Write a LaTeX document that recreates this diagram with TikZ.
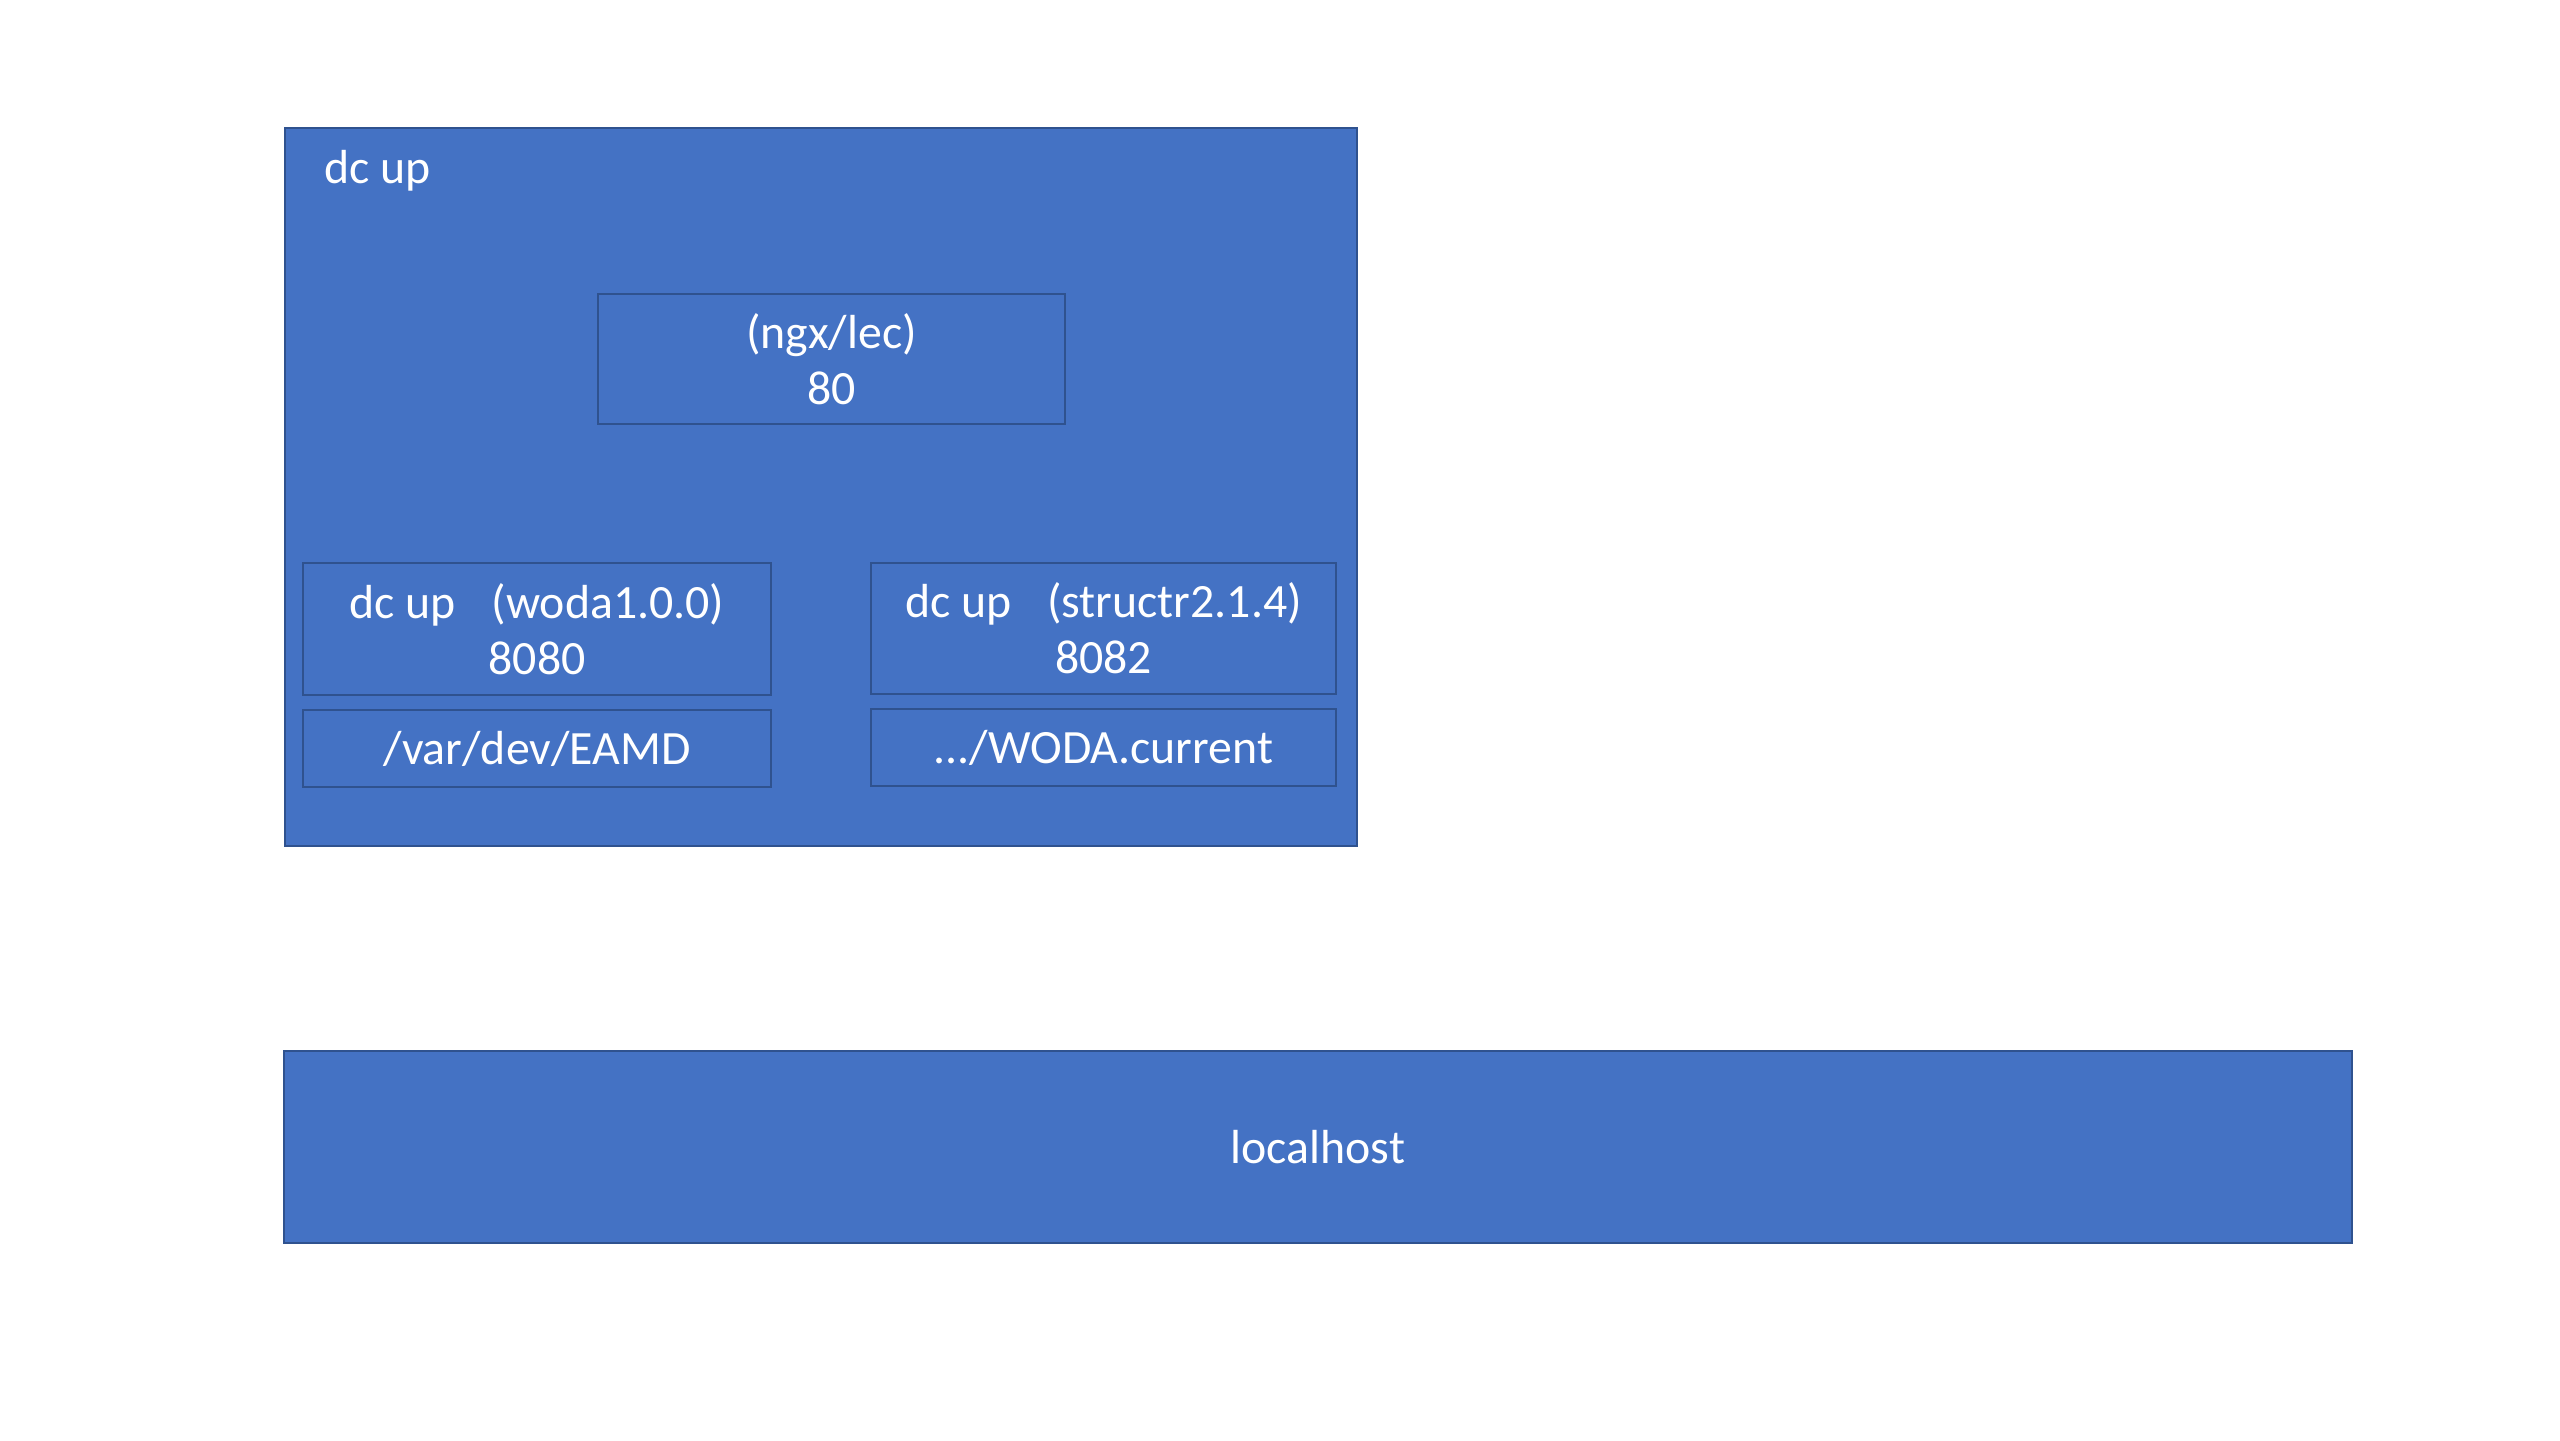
\documentclass[tikz,border=0pt]{standalone}
\usepackage{fontspec}
\setmainfont{Carlito}
\definecolor{officeBlue}{RGB}{68,114,196}
\definecolor{officeEdge}{RGB}{47,82,143}
\usepackage{tikz}
\usetikzlibrary{positioning}

\begin{document}
\begin{tikzpicture}[
    x=1cm,y=1cm,
    panel/.style={draw=officeEdge,line width=0.7pt,fill=officeBlue,inner sep=0pt},
    service/.style={draw=officeEdge,line width=0.6pt,fill=officeBlue,inner sep=0pt,
      text=white,align=center,font=\fontsize{13.6}{16}\selectfont},
    label/.style={text=white,inner sep=0pt,font=\fontsize{13.6}{16}\selectfont}
  ]
  \useasboundingbox[fill=white] (0,0) rectangle (25.6,-14.4);
  % Compose stack (top)
  \node[panel,minimum width=10.72cm,minimum height=7.18cm] (stack) at (8.21,-4.87) {};
  \node[label,anchor=base west] (stacktitle) at (3.24,-1.83) {dc up};
  % Reverse proxy
  \node[service,minimum width=4.67cm,minimum height=1.30cm] (proxy) at (8.315,-3.59)
    {(ngx/lec)\\80};
  % Applications with their mounted folders
  \node[service,minimum width=4.68cm,minimum height=1.32cm] (woda) at (5.37,-6.29)
    {dc up\hspace{0.75em}(woda1.0.0)\\8080};
  \node[service,minimum width=4.68cm,minimum height=0.77cm,below=0.13 of woda] (eamd)
    {/var/dev/EAMD};
  \node[service,minimum width=4.65cm,minimum height=1.31cm] (structr) at (11.035,-6.285)
    {dc up\hspace{0.75em}(structr2.1.4)\\8082};
  \node[service,minimum width=4.65cm,minimum height=0.77cm,below=0.13 of structr] (current)
    {.../WODA.current};
  % Host (bottom)
  \node[panel,minimum width=20.68cm,minimum height=1.92cm,text=white,
    font=\fontsize{13.6}{16}\selectfont] (host) at (13.18,-11.47) {localhost};
\end{tikzpicture}
\end{document}
